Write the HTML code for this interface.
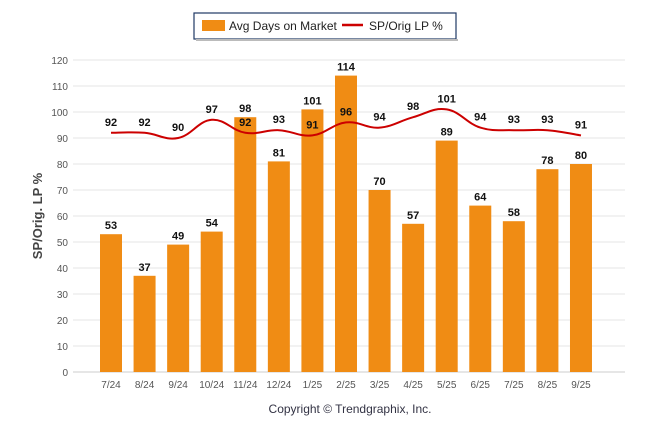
<!DOCTYPE html>
<html><head><meta charset="utf-8"><style>
body{margin:0;background:#fff;}
svg{display:block;font-family:"Liberation Sans",sans-serif;}
</style></head><body>
<svg id="c" width="646" height="434">
<g>
<rect x="194" y="13" width="262" height="26" fill="#fff" stroke="#1f3864" stroke-width="1.2"/>
<rect x="196" y="39" width="262" height="2" fill="#bbb"/>
<rect x="202" y="20" width="23" height="11" fill="#f08c14"/>
<text x="229" y="30" font-size="12" fill="#222">Avg Days on Market</text>
<line x1="342" y1="25" x2="363" y2="25" stroke="#c00" stroke-width="2.5"/>
<text x="369" y="30" font-size="12" fill="#222">SP/Orig LP %</text>
</g>
<text transform="translate(42,216) rotate(-90)" text-anchor="middle" font-size="13" font-weight="bold" fill="#444">SP/Orig. LP %</text>
<text x="350" y="413" text-anchor="middle" font-size="12" fill="#334">Copyright © Trendgraphix, Inc.</text>
<g id="grid"></g><g id="bars"></g><g id="line"></g><g id="labels"></g>
</svg>
<script>
const categories=["7/24","8/24","9/24","10/24","11/24","12/24","1/25","2/25","3/25","4/25","5/25","6/25","7/25","8/25","9/25"];
const daysOnMarket=[53,37,49,54,98,81,101,114,70,57,89,64,58,78,80];
const spOrigLp=[92,92,90,97,92,93,91,96,94,98,101,94,93,93,91];
const yTicks=[0,10,20,30,40,50,60,70,80,90,100,110,120];
const NS="http://www.w3.org/2000/svg";
const y=v=>372-v*2.6;
const x=i=>111+i*33.57;
function mk(t,a,p){const e=document.createElementNS(NS,t);for(const k in a)e.setAttribute(k,a[k]);p.appendChild(e);return e;}
const grid=document.getElementById('grid'),bars=document.getElementById('bars'),line=document.getElementById('line'),labels=document.getElementById('labels');
yTicks.forEach(v=>{
 const l=mk('line',{x1:73,x2:625,y1:y(v),y2:y(v),stroke:v===0?'#ccc':'#e6e6e6','stroke-width':1},grid);
 
 
 const t=mk('text',{x:68,y:y(v)+4,'text-anchor':'end','font-size':10,fill:'#555'},grid);t.textContent=v;
 
 
});
categories.forEach((c,i)=>{
 const t=mk('text',{x:x(i),y:388,'text-anchor':'middle','font-size':10,fill:'#555'},grid);t.textContent=c;
 
 
 const b=mk('rect',{x:x(i)-11,y:y(daysOnMarket[i]),width:22,height:daysOnMarket[i]*2.6,fill:'#f08c14'},bars);
 
 
 const bl=mk('text',{x:x(i),y:y(daysOnMarket[i])-5,'text-anchor':'middle','font-size':11,'font-weight':'bold',fill:'#111'},labels);bl.textContent=daysOnMarket[i];
 
 
 const ll=mk('text',{x:x(i),y:y(spOrigLp[i])-7,'text-anchor':'middle','font-size':11,'font-weight':'bold',fill:'#111'},labels);ll.textContent=spOrigLp[i];
 
 
});
const pts=spOrigLp.map((v,i)=>[x(i),y(v)]);
let d='M'+pts[0][0]+','+pts[0][1];
for(let i=0;i<pts.length-1;i++){
 const p0=pts[Math.max(0,i-1)],p1=pts[i],p2=pts[i+1],p3=pts[Math.min(pts.length-1,i+2)];
 const k=0.2;
 d+=` C${p1[0]+(p2[0]-p0[0])*k},${p1[1]+(p2[1]-p0[1])*k} ${p2[0]-(p3[0]-p1[0])*k},${p2[1]-(p3[1]-p1[1])*k} ${p2[0]},${p2[1]}`;
}
const path=mk('path',{d:d,fill:'none',stroke:'#c00','stroke-width':2},line);


</script>
</body></html>
